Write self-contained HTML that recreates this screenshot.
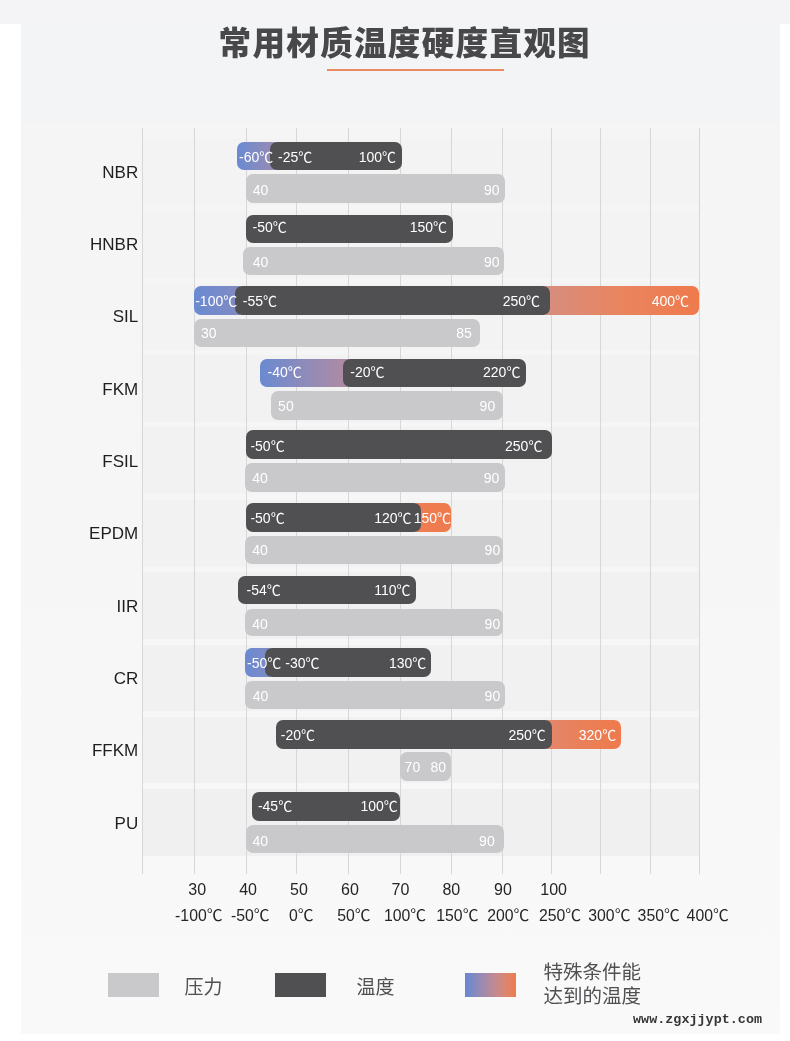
<!DOCTYPE html>
<html lang="zh-CN">
<head>
<meta charset="utf-8">
<title>常用材质温度硬度直观图</title>
<style>
html,body{margin:0;padding:0;background:#fff}
body{width:790px;height:1041px;position:relative;overflow:hidden;font-family:"Liberation Sans","Noto Sans CJK SC",sans-serif;color:#222}
.a{position:absolute}
.top{left:0;top:0;width:790px;height:24px;background:#f4f4f6}
.panel{left:21px;top:24px;width:758.5px;height:1010.3px;background:#f3f4f6}
.body{left:21px;top:122.5px;width:758.5px;height:911.8px;background:linear-gradient(180deg,#f5f5f6 0,#f6f6f7 45%,#f8f8f8 78%,#f9f9f9 100%)}
.title{left:0;width:790px;top:19.6px;letter-spacing:1.27px;height:48px;line-height:48px;font-size:32.6px;font-weight:900;color:#48484a;white-space:nowrap}
.title span{position:absolute;left:218.6px}
.ul{left:327px;top:69px;width:177px;height:2px;background:#e88a62}
.band{left:143px;width:556px;height:66.8px;background:#f1f1f2}
.g{top:127.5px;width:1px;height:746.5px;background:#d7d7da}
.nm{left:30px;width:108.2px;text-align:right;font-size:17px;line-height:20px;height:20px;color:#1e1e1e;white-space:nowrap}
.b{height:28px;border-radius:7px}
.dk{background:#505052}
.gy{background:#c9c9cb}
.t{font-size:14px;line-height:28px;height:28px;color:#fff;white-space:nowrap}
.t.r{text-align:right}
.tg{color:#fff}
.ax{font-size:16px;line-height:20px;height:20px;color:#262626;white-space:nowrap}
.sw{top:973px;width:51px;height:24px}
.lg{font-size:19px;line-height:24.3px;color:#505052;white-space:nowrap}
.wm{left:633px;top:1011.2px;font-family:"Liberation Mono",monospace;font-weight:bold;font-size:13.4px;line-height:18px;color:#353535;white-space:nowrap;letter-spacing:0.03px}
</style>
</head>
<body>
<div class="a top"></div>
<div class="a panel"></div>
<div class="a body"></div>
<div class="a title"><span>常用材质温度硬度直观图</span></div>
<div class="a ul"></div>

<div class="a band" style="top:138.5px;background:#f3f3f4"></div>
<div class="a band" style="top:211px;background:#f3f3f4"></div>
<div class="a band" style="top:282.9px;background:#f3f3f4"></div>
<div class="a band" style="top:355.1px;background:#f2f2f3"></div>
<div class="a band" style="top:426.7px;background:#f2f2f3"></div>
<div class="a band" style="top:499.8px;background:#f2f2f3"></div>
<div class="a band" style="top:572.1px;background:#f1f1f2"></div>
<div class="a band" style="top:644.7px;background:#f1f1f2"></div>
<div class="a band" style="top:716.6px;background:#f1f1f2"></div>
<div class="a band" style="top:788.9px;background:#f0f0f1"></div>

<div class="a g" style="left:142px"></div>
<div class="a g" style="left:194.1px"></div>
<div class="a g" style="left:245.8px"></div>
<div class="a g" style="left:296.2px"></div>
<div class="a g" style="left:348.2px"></div>
<div class="a g" style="left:399.5px"></div>
<div class="a g" style="left:451px"></div>
<div class="a g" style="left:501.5px"></div>
<div class="a g" style="left:550.5px"></div>
<div class="a g" style="left:600.3px"></div>
<div class="a g" style="left:649.6px"></div>
<div class="a g" style="left:698.6px"></div>

<!-- NBR -->
<div class="a nm" style="top:162.7px">NBR</div>
<div class="a b" style="top:142px;height:28.4px;left:237px;width:43px;background:linear-gradient(90deg,#6a8ad2 0,#a08bae 100%)"></div>
<div class="a b dk" style="top:142px;height:28.4px;left:270px;width:132px"></div>
<div class="a b gy" style="top:174.2px;height:28.5px;left:246px;width:259px"></div>
<div class="a t" style="top:143.1px;left:239px">-60℃</div>
<div class="a t" style="top:143.1px;left:278px">-25℃</div>
<div class="a t r" style="top:143.1px;left:336px;width:60px">100℃</div>
<div class="a t tg" style="top:175.5px;left:252.8px">40</div>
<div class="a t tg r" style="top:175.5px;left:459.5px;width:40px">90</div>

<!-- HNBR -->
<div class="a nm" style="top:235px">HNBR</div>
<div class="a b dk" style="top:214.5px;height:28px;left:246.3px;width:207.1px"></div>
<div class="a b gy" style="top:246.9px;height:28.2px;left:243px;width:261px"></div>
<div class="a t" style="top:213.3px;left:252.5px">-50℃</div>
<div class="a t r" style="top:213.3px;left:387px;width:60px">150℃</div>
<div class="a t tg" style="top:247.7px;left:252.8px">40</div>
<div class="a t tg r" style="top:247.7px;left:459.5px;width:40px">90</div>

<!-- SIL -->
<div class="a nm" style="top:307.4px">SIL</div>
<div class="a b" style="top:286.4px;height:28.5px;left:194.2px;width:50.8px;background:linear-gradient(90deg,#6a8ad2 0,#858ac0 100%)"></div>
<div class="a b" style="top:286.4px;height:28.5px;left:540.3px;width:158.8px;background:linear-gradient(90deg,#d78d7d 0,#d78d7d 6%,#e98560 50%,#ef7a4c 100%)"></div>
<div class="a b dk" style="top:286.4px;height:28.5px;left:235px;width:315.3px"></div>
<div class="a b gy" style="top:319.4px;height:27.9px;left:193.7px;width:286.3px"></div>
<div class="a t" style="top:287.4px;left:195.2px">-100℃</div>
<div class="a t" style="top:287.4px;left:242.8px">-55℃</div>
<div class="a t r" style="top:287.4px;left:480px;width:60px">250℃</div>
<div class="a t r" style="top:287.4px;left:629px;width:60px">400℃</div>
<div class="a t tg" style="top:319px;left:201px">30</div>
<div class="a t tg r" style="top:319px;left:431.8px;width:40px">85</div>

<!-- FKM -->
<div class="a nm" style="top:379.7px">FKM</div>
<div class="a b" style="top:358.6px;height:28.7px;left:259.6px;width:93.6px;background:linear-gradient(90deg,#6a8ad2 0,#b58ba0 100%)"></div>
<div class="a b dk" style="top:358.6px;height:28.7px;left:343.2px;width:182.8px"></div>
<div class="a b gy" style="top:391px;height:28.5px;left:270.6px;width:232.1px"></div>
<div class="a t" style="top:358.4px;left:267.5px">-40℃</div>
<div class="a t" style="top:358.4px;left:350.3px">-20℃</div>
<div class="a t r" style="top:358.4px;left:460.4px;width:60px">220℃</div>
<div class="a t tg" style="top:391.6px;left:278.1px">50</div>
<div class="a t tg r" style="top:391.6px;left:455.2px;width:40px">90</div>

<!-- FSIL -->
<div class="a nm" style="top:452px">FSIL</div>
<div class="a b dk" style="top:430.2px;height:28.5px;left:246px;width:306.2px"></div>
<div class="a b gy" style="top:462.9px;height:29px;left:245.2px;width:259.4px"></div>
<div class="a t" style="top:432px;left:250.4px">-50℃</div>
<div class="a t r" style="top:432px;left:482.4px;width:60px">250℃</div>
<div class="a t tg" style="top:464.1px;left:252.3px">40</div>
<div class="a t tg r" style="top:464.1px;left:459.4px;width:40px">90</div>

<!-- EPDM -->
<div class="a nm" style="top:524.3px">EPDM</div>
<div class="a b" style="top:503.3px;height:28.5px;left:410.7px;width:40.7px;background:linear-gradient(90deg,#ec7e55 0,#ec7e55 6%,#ee7c50 50%,#ef7a4c 100%)"></div>
<div class="a b dk" style="top:503.3px;height:28.5px;left:246px;width:174.7px"></div>
<div class="a b gy" style="top:535.7px;height:28.5px;left:245.2px;width:258.3px"></div>
<div class="a t" style="top:504.3px;left:250.4px">-50℃</div>
<div class="a t" style="top:504.3px;left:374.2px">120℃</div>
<div class="a t" style="top:504.3px;left:413.7px">150℃</div>
<div class="a t tg" style="top:536.4px;left:252.3px">40</div>
<div class="a t tg r" style="top:536.4px;left:460.2px;width:40px">90</div>

<!-- IIR -->
<div class="a nm" style="top:596.7px">IIR</div>
<div class="a b dk" style="top:575.6px;height:28.5px;left:238.4px;width:177.7px"></div>
<div class="a b gy" style="top:609.1px;height:27.4px;left:245.2px;width:258.3px"></div>
<div class="a t" style="top:575.7px;left:246.6px">-54℃</div>
<div class="a t" style="top:575.7px;left:374.2px">110℃</div>
<div class="a t tg" style="top:609.7px;left:252.3px">40</div>
<div class="a t tg r" style="top:609.7px;left:460.2px;width:40px">90</div>

<!-- CR -->
<div class="a nm" style="top:669px">CR</div>
<div class="a b" style="top:648.2px;height:28.5px;left:245.2px;width:29.7px;background:linear-gradient(90deg,#6a8ad2 0,#838ac1 100%)"></div>
<div class="a b dk" style="top:648.2px;height:28.5px;left:264.9px;width:166.4px"></div>
<div class="a b gy" style="top:680.5px;height:28.5px;left:245.2px;width:259.8px"></div>
<div class="a t" style="top:649px;left:247px">-50℃</div>
<div class="a t" style="top:649px;left:285.3px">-30℃</div>
<div class="a t" style="top:649px;left:389px">130℃</div>
<div class="a t tg" style="top:682px;left:252.7px">40</div>
<div class="a t tg r" style="top:682px;left:460.2px;width:40px">90</div>

<!-- FFKM -->
<div class="a nm" style="top:741.3px">FFKM</div>
<div class="a b" style="top:720.1px;height:28.5px;left:541.9px;width:78.8px;background:linear-gradient(90deg,#e2876b 0,#e2876b 6%,#ea8059 50%,#ef7a4c 100%)"></div>
<div class="a b dk" style="top:720.1px;height:28.5px;left:275.6px;width:276.3px"></div>
<div class="a b gy" style="top:752.4px;height:28.5px;left:400.1px;width:51.3px"></div>
<div class="a t" style="top:720.8px;left:280.8px">-20℃</div>
<div class="a t" style="top:720.8px;left:508.5px">250℃</div>
<div class="a t" style="top:720.8px;left:578.8px">320℃</div>
<div class="a t tg" style="top:753.4px;left:404.6px">70</div>
<div class="a t tg" style="top:753.4px;left:430.4px">80</div>

<!-- PU -->
<div class="a nm" style="top:813.7px">PU</div>
<div class="a b dk" style="top:792.4px;height:28.6px;left:252.3px;width:148.1px"></div>
<div class="a b gy" style="top:825px;height:28px;left:245.5px;width:258.2px"></div>
<div class="a t" style="top:792.4px;left:257.9px">-45℃</div>
<div class="a t" style="top:792.4px;left:360.4px">100℃</div>
<div class="a t tg" style="top:827px;left:252.5px">40</div>
<div class="a t tg r" style="top:827px;left:454.7px;width:40px">90</div>

<!-- axis -->
<div class="a ax" style="top:879.8px;left:188.3px">30</div>
<div class="a ax" style="top:879.8px;left:239.2px">40</div>
<div class="a ax" style="top:879.8px;left:290.1px">50</div>
<div class="a ax" style="top:879.8px;left:341px">60</div>
<div class="a ax" style="top:879.8px;left:391.5px">70</div>
<div class="a ax" style="top:879.8px;left:442.4px">80</div>
<div class="a ax" style="top:879.8px;left:494px">90</div>
<div class="a ax" style="top:879.8px;left:540.3px">100</div>
<div class="a ax" style="top:905.9px;left:175.1px;font-size:15.8px">-100℃</div>
<div class="a ax" style="top:905.9px;left:230.9px;font-size:15.8px">-50℃</div>
<div class="a ax" style="top:905.9px;left:289px;font-size:15.8px">0℃</div>
<div class="a ax" style="top:905.9px;left:337.2px;font-size:15.8px">50℃</div>
<div class="a ax" style="top:905.9px;left:384px;font-size:15.8px">100℃</div>
<div class="a ax" style="top:905.9px;left:436.3px;font-size:15.8px">150℃</div>
<div class="a ax" style="top:905.9px;left:487.2px;font-size:15.8px">200℃</div>
<div class="a ax" style="top:905.9px;left:538.9px;font-size:15.8px">250℃</div>
<div class="a ax" style="top:905.9px;left:588.3px;font-size:15.8px">300℃</div>
<div class="a ax" style="top:905.9px;left:637.6px;font-size:15.8px">350℃</div>
<div class="a ax" style="top:905.9px;left:686.6px;font-size:15.8px">400℃</div>

<!-- legend -->
<div class="a sw gy" style="left:108px"></div>
<div class="a lg" style="left:184.5px;top:976px">压力</div>
<div class="a sw dk" style="left:275px"></div>
<div class="a lg" style="left:356.5px;top:976px">温度</div>
<div class="a sw" style="left:464.5px;background:linear-gradient(90deg,#6b88d1 0,#6f88ce 6%,#9a8ab2 32%,#c08a92 58%,#dc8670 80%,#ee7b4e 100%)"></div>
<div class="a lg" style="left:543.5px;top:959.5px;font-size:19.5px">特殊条件能<br>达到的温度</div>
<div class="a wm">www.zgxjjypt.com</div>
</body>
</html>
